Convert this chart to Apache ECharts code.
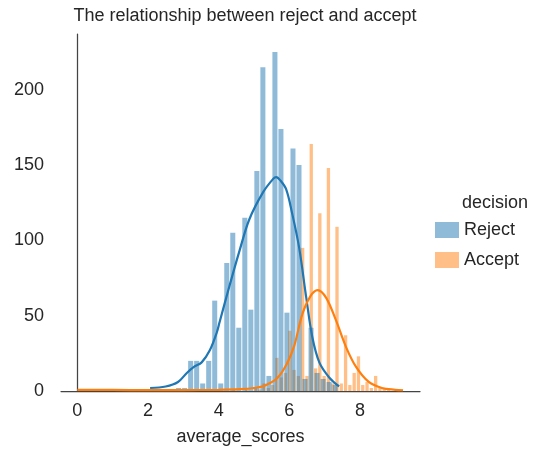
<!DOCTYPE html>
<html><head><meta charset="utf-8">
<script src="https://cdn.jsdelivr.net/npm/echarts@6/dist/echarts.min.js"></script>
<style>html,body{margin:0;padding:0;background:#fff}#c{width:559px;height:457px}</style>
</head><body><div id="c"></div>
<script>
// ---- data ----
const xTicks = [0, 2, 4, 6, 8];
const yTicks = [0, 50, 100, 150, 200];
const categories = ['Reject', 'Accept'];

const rejectBinStart = 2.1;
const rejectBinWidth = 0.1704;
const rejectCounts = [1,0,1,1,2,2,20,20,5,20,60,5,85,105,42,115,54,146,215,10,225,174,52,161,150,8,42,12,8,6,4];

const acceptBinStart = 0;
const acceptBinWidth = 0.1215;
const acceptCounts = [
  1,0,0,0,0,0,0,0,0,0,
  0,0,0,0,0,0,0,0,0,0,
  0,0,0,0,0,0,0,0,0,0,
  1,0,0,0,0,0,1,0,0,1,
  0,2,1,5,2,4,22,9,12,40,
  14,10,95,10,164,15,118,10,148,5,
  109,5,37,4,12,23,4,6,2,10,
  2,2,1,0,1,1];

const rejectKdeX = [2.06,2.5,2.85,3.1,3.3,3.52,3.75,3.95,4.03,4.31,4.59,4.87,5.26,5.55,5.63,5.74,5.91,6.08,6.28,6.48,6.65,6.85,7.13,7.41];
const rejectKdeY = [2,3,6,12,16,19,27,39,46,70,93,114,132,141,142,140,134,118,95,62,36,19,9,3];

const acceptKdeX = [0,1,2,3,4,4.6,5.0,5.3,5.66,5.94,6.14,6.37,6.6,6.8,7.04,7.32,7.61,7.89,8.25,8.62,9.0,9.22];
const acceptKdeY = [0.8,0.7,0.6,0.6,0.8,1.2,2,3.5,8.6,18.5,30,51,63,67,62,47,29,16,6,2,0.8,0.5];

// ---- build ----
function bins(start, width, counts) {
  return counts.map((c, i) => [start + i * width, start + (i + 1) * width, c]);
}
function zip(xs, ys) { return xs.map((x, i) => [x, ys[i]]); }

const BLUE = '#1f77b4', ORANGE = '#ff7f0e';
const BLUE_FILL = 'rgba(31,119,180,0.5)', ORANGE_FILL = 'rgba(255,127,14,0.5)';
const FONT = 'Liberation Sans, Arial, sans-serif';
const TXT = '#262626';

function barRender(fill) {
  return function (params, api) {
    const x0 = api.value(0), x1 = api.value(1), c = api.value(2);
    const p0 = api.coord([x0, c]), p1 = api.coord([x1, 0]);
    return {
      type: 'rect',
      shape: { x: p0[0] + 0.5, y: p0[1], width: Math.max(p1[0] - p0[0] - 1, 0.5), height: p1[1] - p0[1] },
      style: { fill: fill }
    };
  };
}

const chart = echarts.init(document.getElementById('c'), null, { renderer: 'canvas' });
chart.setOption({
  animation: false,
  backgroundColor: '#fff',
  title: [
    { text: 'The relationship between reject and accept', left: 240, top: 2, textAlign: 'center',
      textStyle: { fontFamily: FONT, fontSize: 18, fontWeight: 'normal', color: TXT } },
    { text: 'decision', left: 490, top: 189, textAlign: 'center',
      textStyle: { fontFamily: FONT, fontSize: 18, fontWeight: 'normal', color: TXT } }
  ],
  legend: {
    orient: 'vertical', left: 430, top: 216, itemWidth: 24, itemHeight: 16, itemGap: 12,
    selectedMode: false,
    textStyle: { fontFamily: FONT, fontSize: 18, color: TXT },
    data: [
      { name: categories[0], icon: 'rect', itemStyle: { color: BLUE_FILL } },
      { name: categories[1], icon: 'rect', itemStyle: { color: ORANGE_FILL } }
    ]
  },
  grid: { left: 61, right: 139, top: 34, bottom: 66 },
  xAxis: {
    type: 'value', min: -0.462, max: 9.70,
    splitLine: { show: false },
    axisLine: { lineStyle: { color: '#444', width: 1.25 } },
    axisTick: { show: false },
    axisLabel: { customValues: xTicks, fontFamily: FONT, fontSize: 18, color: TXT, margin: 11 },
    name: 'average_scores', nameLocation: 'middle', nameGap: 37,
    nameTextStyle: { fontFamily: FONT, fontSize: 18, color: TXT }
  },
  yAxis: {
    type: 'value', min: 0, max: 237,
    splitLine: { show: false },
    axisLine: { show: true, lineStyle: { color: '#444', width: 1.25 } },
    axisTick: { show: false },
    axisLabel: { customValues: yTicks, fontFamily: FONT, fontSize: 18, color: TXT, margin: 17 }
  },
  series: [
    { name: categories[1], type: 'custom', renderItem: barRender(ORANGE_FILL),
      itemStyle: { color: ORANGE_FILL },
      encode: { x: [0, 1], y: 2 }, data: bins(acceptBinStart, acceptBinWidth, acceptCounts), z: 1 },
    { name: categories[0], type: 'custom', renderItem: barRender(BLUE_FILL),
      itemStyle: { color: BLUE_FILL },
      encode: { x: [0, 1], y: 2 }, data: bins(rejectBinStart, rejectBinWidth, rejectCounts), z: 2 },
    { name: 'Reject KDE', type: 'line', data: zip(rejectKdeX, rejectKdeY), smooth: 0.35,
      showSymbol: false, lineStyle: { color: BLUE, width: 2.2 }, itemStyle: { color: BLUE }, z: 5 },
    { name: 'Accept KDE', type: 'line', data: zip(acceptKdeX, acceptKdeY), smooth: 0.35,
      showSymbol: false, lineStyle: { color: ORANGE, width: 2.2 }, itemStyle: { color: ORANGE }, z: 6 }
  ]
});
</script></body></html>
